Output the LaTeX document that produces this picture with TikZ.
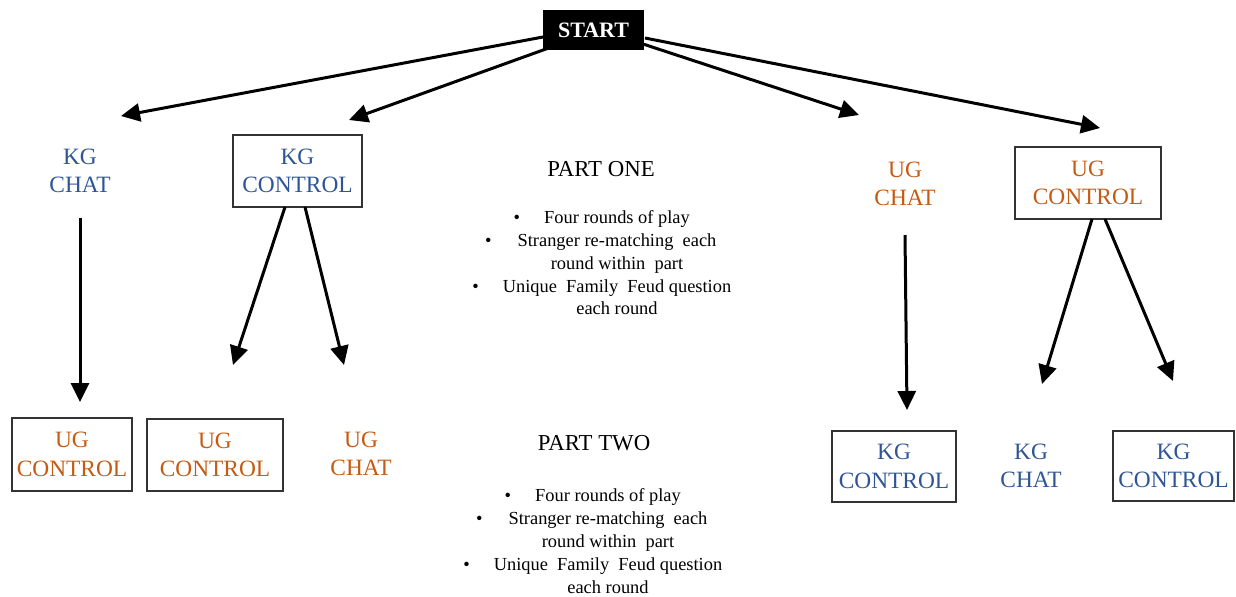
\documentclass[tikz,border=0pt]{standalone}
\usepackage{fontspec}
\setmainfont{Liberation Serif}
\usetikzlibrary{arrows.meta}
\definecolor{kgblue}{RGB}{47,85,151}
\definecolor{ugorange}{RGB}{197,90,17}
\begin{document}
\begin{tikzpicture}[x=0.5pt,y=-0.5pt,
  lbl/.style={align=center,inner sep=0pt,font=\fontsize{11.7pt}{14.3pt}\selectfont},
  kg/.style={lbl,text=kgblue},
  ug/.style={lbl,text=ugorange},
  framed/.style={draw=black!80,line width=0.55pt},
  arr/.style={line width=1.5pt,-{Triangle[length=9.5pt,width=9pt]}},
  part/.style={inner sep=0pt,font=\fontsize{11.4pt}{14pt}\selectfont},
  bullets/.style={align=center,inner sep=0pt,font=\fontsize{9.2pt}{11.4pt}\selectfont}]
\useasboundingbox (0,0) rectangle (1236,596);

% start
\node[fill=black,text=white,inner sep=0pt,minimum width=50.5pt,minimum height=20pt,
      font=\fontsize{11pt}{13pt}\selectfont\bfseries] (start) at (593.5,30) {START};

% level 1
\node[kg] (kgchat) at (80,171) {KG\\CHAT};
\node[kg,framed,minimum width=64.5pt,minimum height=36pt] (kgctrl) at (297.5,171) {KG\\CONTROL};
\node[ug] (ugchat) at (905,184) {UG\\CHAT};
\node[ug,framed,minimum width=73pt,minimum height=36pt] (ugctrl) at (1088,183) {UG\\CONTROL};

% level 2
\node[ug,framed,minimum width=60pt,minimum height=36.5pt] (l1) at (72,454.5) {UG\\CONTROL};
\node[ug,framed,minimum width=68pt,minimum height=36pt] (l2) at (215,455) {UG\\CONTROL};
\node[ug] (l3) at (361,454) {UG\\CHAT};
\node[kg,framed,minimum width=62pt,minimum height=35.5pt] (r1) at (894,466.5) {KG\\CONTROL};
\node[kg] (r2) at (1031,466) {KG\\CHAT};
\node[kg,framed,minimum width=60.5pt,minimum height=35pt] (r3) at (1173.5,466) {KG\\CONTROL};

% parts
\node[part] (p1) at (601,169) {PART ONE};
\node[bullets] (p1b) at (617,263) {\llap{\textbullet\hspace{12pt}}Four rounds of play\\
  \llap{\textbullet\hspace{13pt}}Stranger re-matching\ \ each\\
  round within\ \ part\\
  \llap{\textbullet\hspace{12pt}}Unique\ \ Family\ \ Feud question\\
  each round};
\node[part] (p2) at (594,443) {PART TWO};
\node[bullets] (p2b) at (608,541) {\llap{\textbullet\hspace{12pt}}Four rounds of play\\
  \llap{\textbullet\hspace{13pt}}Stranger re-matching\ \ each\\
  round within\ \ part\\
  \llap{\textbullet\hspace{12pt}}Unique\ \ Family\ \ Feud question\\
  each round};

% connector end points
\coordinate (s1) at (543,37);
\coordinate (s2) at (557,45);
\coordinate (s3) at (643,44);
\coordinate (s4) at (645,38);
\coordinate (t1) at (121,116);
\coordinate (t2) at (349,120);
\coordinate (t3) at (859,115);
\coordinate (t4) at (1100,128);
\coordinate (a1) at (80,218);
\coordinate (a1t) at (80,402);
\coordinate (b1) at (285,207);
\coordinate (b1t) at (233,365);
\coordinate (b2) at (305,207);
\coordinate (b2t) at (344,365);
\coordinate (c1) at (905,235);
\coordinate (c1t) at (907,410);
\coordinate (d1) at (1092,219);
\coordinate (d1t) at (1042,384);
\coordinate (d2) at (1105,219);
\coordinate (d2t) at (1173,381);

\draw[arr] (s1) -- (t1);
\draw[arr] (s2) -- (t2);
\draw[arr] (s3) -- (t3);
\draw[arr] (s4) -- (t4);
\draw[arr] (a1) -- (a1t);
\draw[arr] (b1) -- (b1t);
\draw[arr] (b2) -- (b2t);
\draw[arr] (c1) -- (c1t);
\draw[arr] (d1) -- (d1t);
\draw[arr] (d2) -- (d2t);
\end{tikzpicture}
\end{document}
